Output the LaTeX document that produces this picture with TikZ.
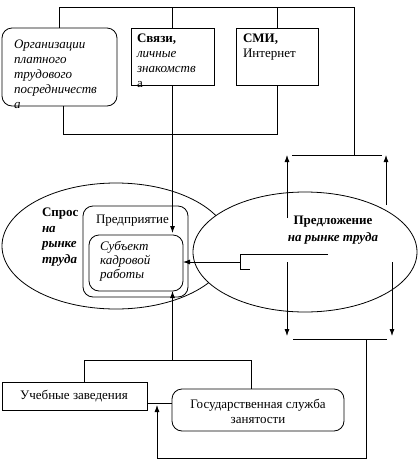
\documentclass[tikz,border=0pt]{standalone}
\usepackage{fontspec}
\setmainfont{Liberation Serif}
\usetikzlibrary{arrows.meta,shapes.geometric}
\begin{document}
\begin{tikzpicture}[x=1pt,y=-1pt,
  line width=0.8pt,
  box/.style={draw, rectangle, inner sep=0pt, outer sep=0pt},
  rbox/.style={box, rounded corners=10pt},
  ell/.style={draw, ellipse, inner sep=0pt, outer sep=0pt},
  arr/.style={-{Latex[length=7pt,width=5pt]}},
  txt/.style={inner sep=0pt, outer sep=0pt, align=left, font=\fontsize{13}{15}\selectfont},
  ctxt/.style={inner sep=0pt, outer sep=0pt, align=center, font=\fontsize{13}{15}\selectfont}
]
\useasboundingbox (0,0) rectangle (418,461);

% coordinates of bus lines
\coordinate (topY) at (0,7);
\coordinate (midY) at (0,134);
\coordinate (rtop) at (354,7);
\coordinate (rbus) at (354,155);

% top boxes
\node[rbox, minimum width=115pt, minimum height=78pt] (org) at (59.5,67) {};
\node[txt, anchor=north west, font=\itshape\fontsize{13}{15}\selectfont] (orgt) at (14,40)
  {Организации\\платного\\трудового\\посредничеств\\а};
\node[box, minimum width=83pt, minimum height=57pt] (svy) at (172.5,56.5) {};
\node[txt, anchor=north west] (svyt) at (137,34)
  {\textbf{Связи,}\\\textit{личные}\\\textit{знакомств}\\а};
\node[box, minimum width=82pt, minimum height=57pt] (smi) at (277,56.5) {};
\node[txt, anchor=north west] (smit) at (243,34) {\textbf{СМИ,}\\Интернет};

% ellipses
\node[ell, minimum width=228pt, minimum height=126pt] (spros) at (116,246) {};
\node[ell, fill=white, minimum width=224pt, minimum height=120pt] (pred) at (305,252) {};

% inner boxes
\node[rbox, minimum width=105pt, minimum height=91pt] (firm) at (135.5,251.5) {};
\node[rbox, minimum width=94pt, minimum height=56pt] (subj) at (136,263) {};
\node[txt, anchor=north west] (firmt) at (96,215) {Предприятие};
\node[txt, anchor=north west, font=\itshape\fontsize{13}{14}\selectfont] (subjt) at (100,241)
  {Субъект\\кадровой\\работы};
\node[txt, anchor=north west, font=\bfseries\fontsize{13}{15.5}\selectfont] (sprost) at (42,208)
  {Спрос\\\textit{на}\\\textit{рынке}\\\textit{труда}};
\node[ctxt, font=\bfseries\fontsize{13}{17}\selectfont] (predt) at (333,230)
  {Предложение\\\textit{на рынке труда}};

% bottom boxes
\node[box, minimum width=145pt, minimum height=28pt] (ucheb) at (74.5,396) {};
\node[ctxt] (uchebt) at (74,396) {Учебные заведения};
\node[rbox, minimum width=172pt, minimum height=42pt] (gos) at (258,410) {};
\node[ctxt] (gost) at (258,411) {Государственная служба\\занятости};

% top bus
\draw (org.north) -- (org.north |- topY) -- (rtop) -- (rbus);
\draw (svy.north) -- (svy.north |- topY);
\draw (smi.north) -- (smi.north |- topY);
\coordinate (orgb) at (63,105);
\draw (orgb |- org.south) -- (orgb |- midY) -- (smi.south |- midY) -- (smi.south);
\draw[arr] (svy.south) -- (172.5,233);

% right side arrows
\coordinate (rl) at (292,155);
\coordinate (rr) at (382,155);
\draw (rl) -- (rr);
\coordinate (bl) at (293,339);
\coordinate (br) at (387,339);
\draw (bl) -- (br);
\coordinate (u1) at (287,218);
\coordinate (u2) at (386,205);
\draw[arr] (u1) -- (u1 |- rl);
\draw[arr] (u2) -- (u2 |- rl);
\coordinate (d1) at (287,262);
\coordinate (d2) at (392,262);
\draw[arr] (d1) -- (287,336);
\draw[arr] (d2) -- (392,336);

% bracket into subject
\coordinate (bk) at (240,262);
\draw[arr] (bk) -- (subj.east |- bk);
\draw (328,254) -- (240,254) -- (240,269) -- (250,269);

% bottom bus
\coordinate (bb) at (172.5,360);
\draw[arr] (bb) -- (subj.south -| bb);
\coordinate (ub) at (84,360);
\coordinate (gb) at (251,360);
\draw (ub |- ucheb.north) -- (ub) -- (gb) -- (gb |- gos.north);
\coordinate (ug) at (0,403);
\draw (ucheb.east |- ug) -- (gos.west |- ug);
\coordinate (lp) at (157,458);
\coordinate (rp) at (366,458);
\draw[arr] (rp |- br) -- (rp) -- (lp) -- (157,405);
\end{tikzpicture}
\end{document}
